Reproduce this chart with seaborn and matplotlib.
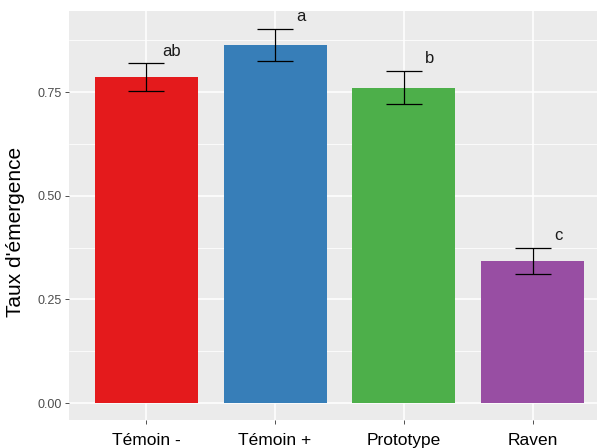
import matplotlib
matplotlib.use("Agg")
import matplotlib.pyplot as plt
import seaborn as sns
import numpy as np
import pandas as pd

# Emergence rate per treatment (mean ± standard error) and group letters
treatments = ["Témoin -", "Témoin +", "Prototype", "Raven"]
emergence = [0.786, 0.863, 0.760, 0.343]
std_err = [0.033, 0.039, 0.040, 0.031]
groups = ["ab", "a", "b", "c"]
colors = ["#E41A1C", "#377EB8", "#4DAF4A", "#984EA3"]

df = pd.DataFrame({"traitement": treatments, "taux": emergence, "se": std_err, "groupe": groups})

sns.set_theme(style="darkgrid")
plt.rcParams["font.family"] = ["Liberation Sans", "DejaVu Sans"]

fig = plt.figure(figsize=(6.05, 4.48), dpi=100)
ax = fig.add_axes([0.114, 0.0625, 0.873, 0.9125])
ax.set_facecolor("#EBEBEB")

sns.barplot(data=df, x="traitement", y="taux", hue="traitement", palette=colors,
            width=0.8, saturation=1, legend=False, ax=ax, zorder=2,
            edgecolor="none", linewidth=0)

xpos = np.arange(len(treatments))
ax.errorbar(xpos, df["taux"], yerr=df["se"], fmt="none", ecolor="black",
            elinewidth=0.9, capsize=13, capthick=0.9, zorder=3)

for x, y, s, g in zip(xpos, df["taux"], df["se"], df["groupe"]):
    ax.text(x + 0.2, y + s + 0.03, g, ha="center", va="center", fontsize=12, color="#1A1A1A", zorder=4)

ax.set_xlim(-0.6, 3.5)
ax.set_ylim(-0.041, 0.945)
ax.set_yticks([0.0, 0.25, 0.5, 0.75])
ax.set_yticklabels(["0.00", "0.25", "0.50", "0.75"])
ax.set_yticks([0.125, 0.375, 0.625, 0.875], minor=True)

ax.grid(which="major", color="white", linewidth=1.1, zorder=0)
ax.grid(which="minor", axis="y", color="white", linewidth=0.55, zorder=0)
ax.set_axisbelow(True)
for sp in ax.spines.values():
    sp.set_visible(False)

ax.tick_params(axis="y", which="major", labelsize=9, labelcolor="#4D4D4D", color="#333333",
               length=3, width=0.6, left=True, pad=2)
ax.tick_params(axis="x", which="major", labelsize=12.5, labelcolor="black", color="#333333",
               length=3, width=0.6, bottom=True, pad=6)
ax.tick_params(which="minor", length=0)

ax.set_xlabel("")
ax.set_ylabel("Taux d'émergence", fontsize=15, color="black")
ax.yaxis.set_label_coords(-0.083, 0.46)

fig.savefig("out.png", dpi=100, facecolor="white")
